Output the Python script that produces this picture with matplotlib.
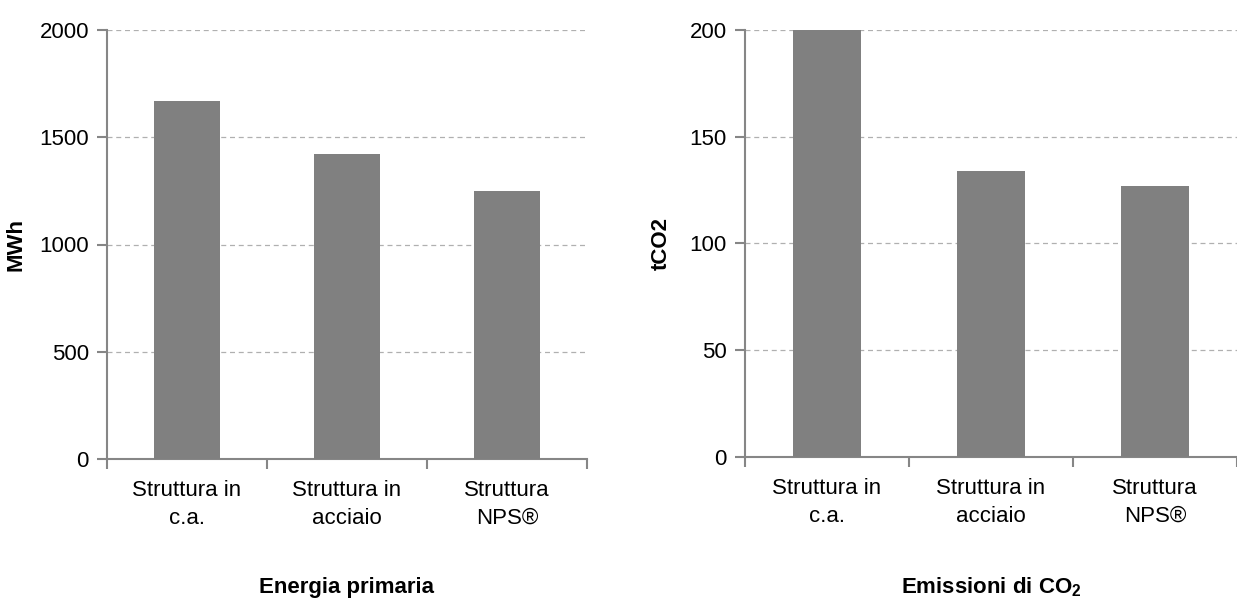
import matplotlib.pyplot as plt
import numpy as np

categorie = ['Struttura in\nc.a.', 'Struttura in\nacciaio', 'Struttura\nNPS®']
energia = [1670, 1420, 1248]
emissioni = [200, 134, 127]

plt.rcParams['font.family'] = ['Liberation Sans', 'DejaVu Sans']
plt.rcParams['mathtext.fontset'] = 'custom'
plt.rcParams['mathtext.rm'] = 'Liberation Sans'
plt.rcParams['mathtext.bf'] = 'Liberation Sans:bold'

grigio = '#808080'
asse = '#868686'

fig = plt.figure(figsize=(12.37, 5.99), dpi=100)
ax1 = fig.add_axes([107/1237, 1 - 459/599, 480/1237, 429/599])
ax2 = fig.add_axes([745/1237, 1 - 457/599, 492/1237, 427/599])

def disegna(ax, valori, ymax, passo, ylab, titolo):
    x = np.arange(len(categorie))
    ax.bar(x, valori, width=0.41, color=grigio, zorder=3)
    ax.set_xlim(-0.5, len(categorie) - 0.5)
    ax.set_ylim(0, ymax)
    ax.set_yticks(np.arange(0, ymax + 1, passo))
    ax.yaxis.grid(True, linestyle=(0, (4, 3)), color='#b0b0b0', linewidth=0.9, zorder=0)
    for s in ['top', 'right']:
        ax.spines[s].set_visible(False)
    for s in ['left', 'bottom']:
        ax.spines[s].set_color(asse)
        ax.spines[s].set_linewidth(1.5)
    ax.set_xticks(x)
    ax.set_xticklabels(categorie, fontsize=16, linespacing=1.45)
    ax.tick_params(axis='x', length=0, pad=15)
    ax.set_xticks(np.arange(len(categorie) + 1) - 0.5, minor=True)
    ax.tick_params(axis='x', which='minor', length=7, width=1.5, color=asse)
    ax.tick_params(axis='y', length=7, width=1.5, color=asse, labelsize=16, pad=6)
    ax.set_ylabel(ylab, fontsize=16, fontweight='bold')
    pos = ax.get_position()
    fig.text(pos.x0 + pos.width / 2, 1 - 587/599, titolo, fontsize=16,
             fontweight='bold', ha='center', va='center')

disegna(ax1, energia, 2000, 500, 'MWh', 'Energia primaria')
disegna(ax2, emissioni, 200, 50, 'tCO2', r'Emissioni di CO$_\mathbf{2}$')
ax1.yaxis.set_label_coords(-0.167, 0.5)
ax2.yaxis.set_label_coords(-0.148, 0.5)

fig.savefig('out.png', dpi=100)
